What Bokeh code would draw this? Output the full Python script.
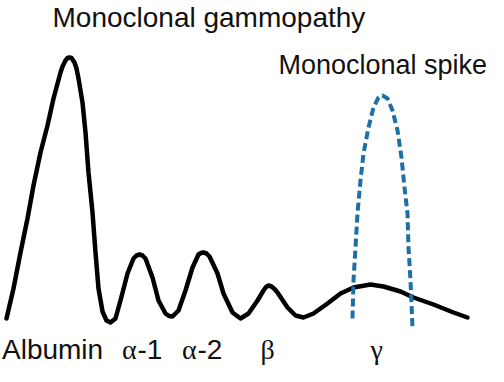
from bokeh.plotting import figure
from bokeh.models import Range1d
from bokeh.core.properties import value
from bokeh.embed import file_html
from bokeh.resources import INLINE

# Serum protein electrophoresis trace: mobility position vs relative intensity
spep_mobility = [6, 13, 20, 27, 33, 40, 47, 53, 60, 62, 65, 67, 69, 71, 74, 76, 78, 82, 85, 88,
                 92, 95, 98, 102, 106, 110, 115, 120, 127, 133, 136, 139, 142, 145, 152, 158,
                 165, 168.5, 172, 178, 185, 192, 198, 200.5, 203, 206, 209, 217, 223, 232, 240,
                 248, 257, 263, 265.5, 268, 271, 274, 277, 287, 295, 303, 313, 327, 340, 353,
                 370, 383, 400, 413, 433, 453, 467]
spep_intensity = [12, 42, 78, 112, 145, 178, 205, 232, 258, 264, 270, 272.5, 273, 272.5, 268,
                  262, 252, 228, 198, 158, 118, 78, 42, 19, 10, 8, 12, 30, 57, 72, 75, 76, 75,
                  72, 53, 30, 17, 14.5, 14, 20, 40, 63, 76, 77.5, 78, 77, 74, 57, 37, 18, 12,
                  17, 30, 40, 43.5, 45, 44, 41.5, 38, 23, 15, 13, 17, 27, 37, 43, 46, 44, 39,
                  33, 26, 18, 13]

# Monoclonal spike in the gamma region
spike_mobility = [352, 353, 355, 357, 360, 363, 368, 373, 378, 382, 387, 392, 397, 401, 404,
                  407, 408, 410, 412]
spike_intensity = [12, 50, 83, 117, 150, 177, 203, 223, 233, 235, 232, 220, 200, 173, 143,
                   117, 83, 50, 3]

fraction_labels = ["Albumin", "α-1", "α-2", "β", "γ"]
title_text = "Monoclonal gammopathy"
spike_text = "Monoclonal spike"

SANS = value("Liberation Sans")
SERIF = value("Liberation Serif")
INK = "#111111"

p = figure(width=488, height=366, x_range=Range1d(0, 488), y_range=Range1d(-36, 330),
           output_backend="svg", toolbar_location=None, min_border=0,
           x_axis_location=None, y_axis_location=None)
p.grid.visible = False
p.outline_line_color = None
p.background_fill_color = "white"
p.border_fill_color = "white"

p.line(spep_mobility, spep_intensity, line_color="black", line_width=4.5,
       line_join="round", line_cap="round")
p.line(spike_mobility, spike_intensity, line_color="#1d6fa5", line_width=4,
       line_dash="8 4")

def label(x, y, txt, font=SANS, size="28px"):
    p.text(x=[x], y=[y], text=[txt], text_font=font, text_font_size=size,
           text_color=INK, text_align="left", text_baseline="middle")

label(52, 313.5, title_text)
label(278, 266, spike_text, size="27px")

# bottom fraction labels
label(1.5, -19.3, fraction_labels[0])
label(121.5, -19.3, fraction_labels[1][0], font=SERIF)
label(137, -19.3, fraction_labels[1][1:])
label(181.5, -19.3, fraction_labels[2][0], font=SERIF)
label(197, -19.3, fraction_labels[2][1:])
label(260, -19.3, fraction_labels[3], font=SERIF)
label(370, -19.3, fraction_labels[4], font=SERIF)

open("out.html", "w").write(file_html(p, INLINE))
